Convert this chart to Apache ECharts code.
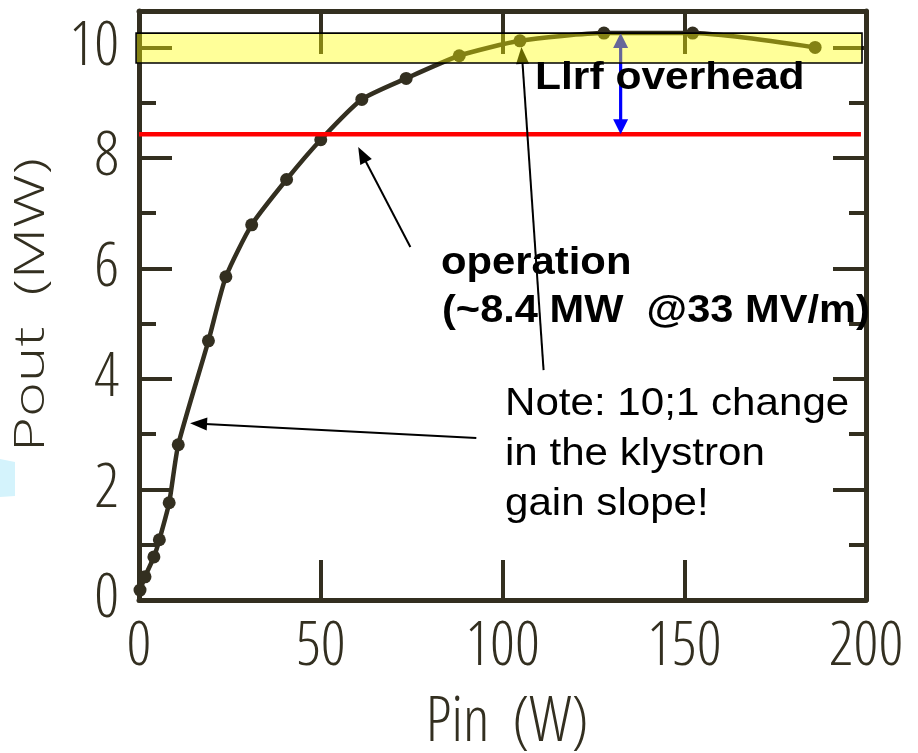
<!DOCTYPE html>
<html><head><meta charset="utf-8">
<script src="https://cdn.jsdelivr.net/npm/echarts@6/dist/echarts.min.js"></script>
<style>html,body{margin:0;padding:0;background:#fff}#c{width:918px;height:753px}</style>
</head><body><div id="c"></div>
<script>
// ---- data ----
const pinW   = [0.28, 1.65, 4.1, 5.6, 8.3, 10.8, 19.1, 23.9, 31.0, 40.6, 50.0, 61.3, 73.5, 88.1, 104.8, 127.9, 152.3, 186.0];
const poutMW = [0.18, 0.42, 0.78, 1.09, 1.76, 2.81, 4.69, 5.85, 6.79, 7.61, 8.33, 9.06, 9.44, 9.85, 10.12, 10.26, 10.26, 10.0];
const xTickLabels = ['0', '50', '100', '150', '200'];
const yTickLabels = ['0', '2', '4', '6', '8', '10'];
const operationLevel = 8.43;          // red line (MW)
const operationSpan = [0, 198.6];     // Pin range of red line
const overheadBand = [[-0.8, 10.26], [198.9, 9.72]]; // yellow band corners
const llrfArrow = [[132.5, 10.26], [132.5, 8.43]];    // blue double arrow
const arrowOperation = [[74.65, 6.39], [60.3, 8.2]];
const arrowBand = [[111.3, 4.16], [105.2, 10.01]];
const arrowNote = [[92.8, 2.93], [14.05, 3.2]];

const dark = '#332f20';
const axisFam = '"Open Sans", "Noto Sans", sans-serif';

const chart = echarts.init(document.getElementById('c'), null, {renderer: 'canvas'});
const seriesData = pinW.map((x, i) => [x, poutMW[i]]);

function yAxisDef(pos, interval, len, labels, line) {
  return {
    type: 'value', position: pos, min: 0, max: 10.66, interval: interval,
    axisLine: {show: line, onZero: false, lineStyle: {color: dark, width: 5}},
    axisTick: {show: true, inside: true, length: len, lineStyle: {color: dark, width: 4}},
    axisLabel: {show: labels, margin: 20, showMaxLabel: false, color: dark, fontSize: 61,
      fontStyle: 'normal', fontWeight: '350 condensed', fontFamily: axisFam,
      formatter: v => { const i = yTickLabels.indexOf(String(v)); return i >= 0 ? yTickLabels[i] : ''; }},
    splitLine: {show: false}
  };
}
function xAxisDef(pos, len, labels) {
  return {
    type: 'value', position: pos, min: 0, max: 200, interval: 50,
    axisLine: {show: true, onZero: false, lineStyle: {color: dark, width: 5}},
    axisTick: {show: true, inside: true, length: len, lineStyle: {color: dark, width: 4}},
    axisLabel: {show: labels, margin: 17, color: dark, fontSize: 61,
      fontStyle: 'normal', fontWeight: '350 condensed', fontFamily: axisFam,
      formatter: v => { const i = xTickLabels.indexOf(String(v)); return i >= 0 ? xTickLabels[i] : ''; }},
    splitLine: {show: false}
  };
}

chart.setOption({
  animation: false,
  backgroundColor: '#fff',
  grid: {left: 139, right: 52, top: 11, bottom: 153, containLabel: false, outerBoundsMode: 'none'},
  xAxis: [xAxisDef('bottom', 40, true), xAxisDef('top', 43, false)],
  yAxis: [yAxisDef('left', 2, 33, true, true), yAxisDef('left', 1, 17, false, false),
          yAxisDef('right', 2, 33, false, true), yAxisDef('right', 1, 17, false, false)],
  series: [{
    type: 'line', data: seriesData, xAxisIndex: 0, yAxisIndex: 0,
    smooth: 0.2, symbol: 'circle', symbolSize: 13, z: 2,
    lineStyle: {color: dark, width: 4.5}, itemStyle: {color: dark, borderWidth: 0}
  }]
});

const P = p => chart.convertToPixel({gridIndex: 0}, p);

function arrowEls(a, b, color, lw, hl, hw, z, both) {
  const [x0, y0] = P(a), [x1, y1] = P(b);
  const dx = x1 - x0, dy = y1 - y0, L = Math.hypot(dx, dy), ux = dx / L, uy = dy / L;
  const nx = -uy, ny = ux;
  const els = [];
  const head = (tx, ty, sx, sy) => ({
    type: 'polygon', z: z, silent: true,
    shape: {points: [[tx, ty], [tx - sx * hl + nx * hw / 2, ty - sy * hl + ny * hw / 2], [tx - sx * hl - nx * hw / 2, ty - sy * hl - ny * hw / 2]]},
    style: {fill: color}
  });
  const sx0 = both ? x0 + ux * hl * 0.9 : x0, sy0 = both ? y0 + uy * hl * 0.9 : y0;
  els.push({type: 'line', z: z, silent: true,
    shape: {x1: sx0, y1: sy0, x2: x1 - ux * hl * 0.9, y2: y1 - uy * hl * 0.9},
    style: {stroke: color, lineWidth: lw}});
  els.push(head(x1, y1, ux, uy));
  if (both) els.push(head(x0, y0, -ux, -uy));
  return els;
}

const [bx0, by0] = P(overheadBand[0]), [bx1, by1] = P(overheadBand[1]);
const [rx0, ry] = P([operationSpan[0], operationLevel]), [rx1] = P([operationSpan[1], operationLevel]);

function txt(t, x, y, font, sx, z) {
  return {type: 'text', x: x, y: y, scaleX: sx, z: z, silent: true,
    style: {text: t, font: font, fill: '#000', align: 'left', verticalAlign: 'middle'}};
}
const boldF = 'bold 38px "Liberation Sans", Arial, sans-serif';
const normF = '39px "Liberation Sans", Arial, sans-serif';

// stretch y-axis title to the reference length
const yTitle = 'Pout  (MW)';
const yTitleFont = '350 42px ' + axisFam;
const mctx = document.createElement('canvas').getContext('2d');
mctx.font = yTitleFont;
const yTitleScale = 294 / mctx.measureText(yTitle).width;

const graphics = [
  {type: 'polygon', z: 1, silent: true, shape: {points: [[0, 459], [15, 462], [15, 496], [0, 497]]}, style: {fill: '#d4f3fc'}},
  {type: 'line', z: 10, silent: true, shape: {x1: rx0, y1: ry, x2: rx1, y2: ry}, style: {stroke: '#ff0000', lineWidth: 4.5}},
  ...arrowEls(llrfArrow[1], llrfArrow[0], '#0000ff', 3.2, 15, 15, 11, true),
  ...arrowEls(arrowOperation[0], arrowOperation[1], '#000', 2, 17, 13, 12, false),
  ...arrowEls(arrowBand[0], arrowBand[1], '#000', 2, 17, 13, 12, false),
  ...arrowEls(arrowNote[0], arrowNote[1], '#000', 2, 17, 13, 12, false),
  {type: 'rect', z: 50, silent: true, shape: {x: bx0, y: by0, width: bx1 - bx0, height: by1 - by0},
    style: {fill: 'rgba(255,255,0,0.4)', stroke: '#000', lineWidth: 1.6}},
  txt('Llrf overhead', 535, 78.8, boldF, 1.12, 60),
  txt('operation', 441, 263.8, boldF, 1.1, 11),
  txt('(~8.4 MW  @33 MV/m)', 442, 311.8, boldF, 1.095, 11),
  txt('Note: 10;1 change', 505, 404.5, normF, 1.08, 60),
  txt('in the klystron', 505, 454.5, normF, 1.08, 60),
  txt('gain slope!', 505, 504.5, normF, 1.08, 60),
  {type: 'text', x: 32, y: 305, rotation: Math.PI / 2, scaleX: yTitleScale, z: 60, silent: true,
    style: {text: yTitle, font: yTitleFont, fill: dark, align: 'center', verticalAlign: 'middle'}},
  {type: 'text', x: 507, y: 723, z: 60, silent: true,
    style: {text: 'Pin  (W)', font: 'normal 350 condensed 62px ' + axisFam, fill: dark, align: 'center', verticalAlign: 'middle'}}
];
chart.setOption({graphic: {elements: graphics}});
</script>
</body></html>
